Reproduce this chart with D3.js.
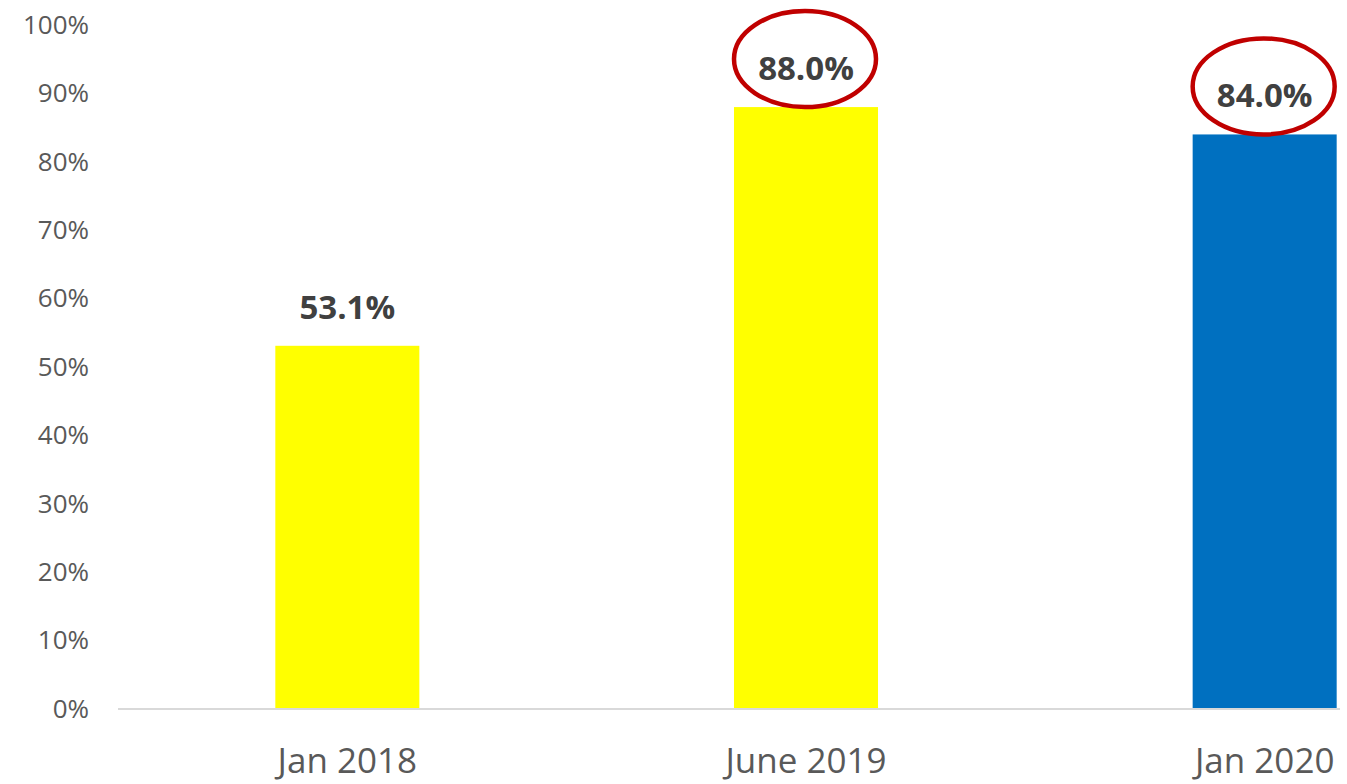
<!DOCTYPE html>
<html>
<head>
<meta charset="utf-8">
<script src="https://cdn.jsdelivr.net/npm/d3@7"></script>
<style>
  body { margin: 0; background: #fff; }
  svg { display: block; }
  svg text { font-family: "Open Sans", "Noto Sans", sans-serif; }
</style>
</head>
<body>
<svg id="chart" width="1347" height="784"></svg>
<script>
var categories = ["Jan 2018", "June 2019", "Jan 2020"];
var values = [53.1, 88.0, 84.0];
var barColors = ["#ffff00", "#ffff00", "#0070c0"];
var circled = ["June 2019", "Jan 2020"];
var yTicks = [0, 10, 20, 30, 40, 50, 60, 70, 80, 90, 100];

var data = categories.map((c, i) => ({cat: c, value: values[i], color: barColors[i]}));

var svg = d3.select("svg#chart");

var x = d3.scaleBand()
          .domain(categories)
          .range([118, 1494])
          .paddingInner(0.686)
          .paddingOuter(0.343);

var y = d3.scaleLinear()
          .domain([0, 100])
          .range([709, 25]);

// y tick labels, no axis line
var yAxis = svg.append("g")
  .attr("transform", "translate(89,0)")
  .call(d3.axisLeft(y).tickValues(yTicks).tickSize(0).tickPadding(0).tickFormat(d => d + "%"));
yAxis.select(".domain").remove();
yAxis.selectAll("text")
  .attr("fill", "#595959")
  .style("font-size", "26px");

// bars
svg.selectAll("rect.bar").data(data)
  .enter().append("rect")
  .attr("class", "bar")
  .attr("x", d => x(d.cat))
  .attr("y", d => y(d.value))
  .attr("width", x.bandwidth())
  .attr("height", d => y(0) - y(d.value))
  .attr("fill", d => d.color);

// baseline
svg.append("line")
  .attr("x1", 118).attr("x2", 1340)
  .attr("y1", y(0)).attr("y2", y(0))
  .attr("stroke", "#d9d9d9")
  .attr("stroke-width", 2);

// category labels
var xAxis = svg.append("g")
  .attr("transform", "translate(0," + y(0) + ")")
  .call(d3.axisBottom(x).tickSize(0).tickPadding(0));
xAxis.select(".domain").remove();
xAxis.selectAll("text")
  .attr("dy", null)
  .attr("y", 64)
  .attr("fill", "#595959")
  .style("font-size", "35px");

// value labels
svg.selectAll("text.val").data(data)
  .enter().append("text")
  .attr("class", "val")
  .attr("x", d => x(d.cat) + x.bandwidth() / 2)
  .attr("y", d => y(d.value) - 27)
  .attr("text-anchor", "middle")
  .attr("fill", "#404040")
  .style("font-size", "33px")
  .style("font-weight", "bold")
  .text(d => d.value.toFixed(1) + "%");

// red ellipses round the highlighted labels
svg.selectAll("ellipse.mark").data(data.filter(d => circled.includes(d.cat)))
  .enter().append("ellipse")
  .attr("class", "mark")
  .attr("cx", d => x(d.cat) + x.bandwidth() / 2 - 1)
  .attr("cy", d => y(d.value) - 48)
  .attr("rx", 71)
  .attr("ry", 48)
  .attr("fill", "none")
  .attr("stroke", "#c00000")
  .attr("stroke-width", 4.5);
</script>
</body>
</html>
